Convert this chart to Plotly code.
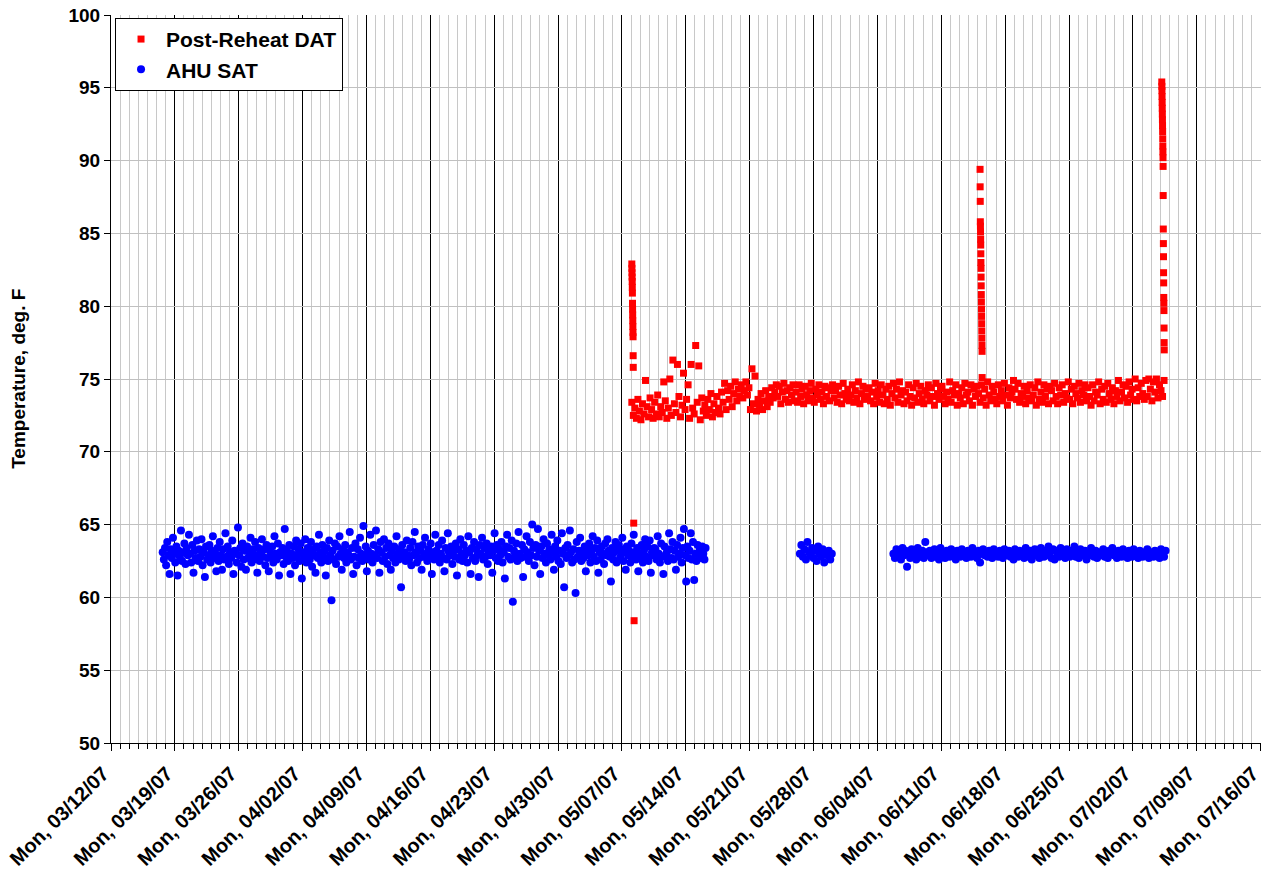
import pandas as pd
import plotly.graph_objects as go

# ---------------- data ----------------
sat_step1 = "3h"
sample_step = "4h"
spike_step = "15min"

# AHU supply air temperature (deg F), three logging segments
sat_seg1_start = "2007-03-17 16:00"
sat_seg1 = [
    63.1, 62.6, 63.4, 62.2, 63.8, 62.9, 61.6, 63.3,
    62.7, 64.1, 63.0, 62.4, 63.5, 61.5, 63.2, 62.8,
    64.6, 62.5, 63.1, 63.7, 62.3, 63.4, 62.9, 64.3,
    63.0, 62.4, 63.6, 61.7, 63.2, 62.7, 63.9, 62.5,
    63.3, 62.8, 64.0, 62.2, 63.1, 61.4, 63.5, 62.6,
    62.9, 63.6, 62.4, 63.2, 64.2, 62.7, 63.0, 61.8,
    63.4, 62.5, 63.8, 62.9, 61.9, 63.3, 62.6, 64.4,
    62.8, 63.5, 62.3, 63.1, 62.7, 63.9, 61.6, 63.2,
    63.0, 62.4, 64.8, 62.9, 63.4, 62.1, 63.7, 62.6,
    63.2, 61.9, 63.5, 62.7, 63.0, 64.1, 62.4, 63.3,
    62.6, 63.8, 62.9, 61.7, 63.4, 62.5, 63.1, 64.0,
    62.8, 63.3, 62.2, 63.6, 62.7, 61.8, 63.2, 62.9,
    63.5, 62.4, 64.2, 63.0, 62.6, 63.7, 61.5, 63.1,
    62.9, 63.4, 62.3, 64.7, 62.8, 63.2, 62.5, 63.6,
    61.6, 63.0, 62.7, 63.5, 62.2, 63.9, 62.9, 63.3,
    62.5, 63.7, 61.3, 63.1, 62.8, 64.0, 62.4, 63.4,
    63.0, 62.6, 63.8, 62.1, 63.3, 62.9, 61.7, 63.5,
    62.7, 64.3, 63.1, 62.4, 63.6, 62.8, 63.2, 61.5,
    63.4, 62.5, 63.9, 62.9, 59.8, 63.2, 62.6, 63.7,
    62.3, 63.5, 62.8, 64.2, 63.0, 61.9, 63.3, 62.7,
    63.6, 62.4, 63.1, 62.9, 64.5, 62.6, 63.4, 61.6,
    62.8, 63.7, 62.2, 63.3, 62.7, 64.1, 63.0, 62.5,
    64.9, 62.9, 63.5, 61.8, 63.2, 62.6, 64.3, 63.0,
    62.4, 63.6, 62.9, 64.6, 62.7, 63.3, 61.7, 63.8,
    63.1, 62.5, 64.0, 62.8, 63.4, 62.3, 63.7, 62.9,
    61.9, 63.2, 62.7, 63.5, 62.4, 64.2, 63.0, 62.6,
    63.3, 60.7, 63.6, 62.8, 63.1, 62.5, 63.9, 62.9,
    62.6, 63.4, 62.2, 63.8, 62.9, 64.5, 63.1, 62.4,
    63.5, 62.7, 63.2, 61.9, 63.6, 62.8, 64.1, 63.0,
    62.5, 63.3, 62.9, 63.7, 61.6, 63.1, 62.6, 64.3,
    63.2, 62.8, 63.6, 62.4, 63.0, 63.9, 62.7, 61.8,
    63.4, 62.6, 64.4, 63.1, 62.9, 63.5, 62.3, 63.2,
    62.8, 63.7, 61.5, 63.3, 62.6, 64.0, 63.0, 62.5,
    63.6, 62.9, 63.2, 62.4, 64.2, 63.1, 61.6, 63.4,
    62.7, 63.8, 62.5, 63.3, 62.9, 61.4, 63.6, 63.0,
    64.1, 62.6, 63.4, 62.8, 63.7, 62.3, 63.1, 62.9,
    63.5, 61.7, 63.2, 64.4, 62.7, 63.6, 62.5, 63.3,
    62.9, 63.8, 62.4, 63.1, 61.3, 63.5, 64.3, 62.8,
    63.4, 62.6, 63.9, 59.7, 63.2, 62.9, 63.7, 62.5,
    64.5, 63.0, 62.7, 63.6, 61.4, 63.3, 62.8, 64.2,
    63.1, 62.5, 63.8, 62.9, 65.0, 63.4, 62.2, 63.6,
    62.8, 64.7, 63.2, 61.6, 63.5, 62.7, 64.0, 63.0,
    62.4, 63.7, 62.9, 63.3, 62.6, 64.3, 63.1, 61.9,
    63.5, 62.8, 63.9, 62.5, 63.2, 62.3, 64.4, 63.0,
    60.7, 63.4, 62.7, 63.6, 62.9, 64.6, 63.1, 62.4,
    63.3, 62.6, 60.3, 63.8, 62.8, 63.2, 64.1, 62.5,
    63.0, 62.7, 63.5, 61.8, 63.3, 62.9, 63.7, 62.4,
    63.2, 64.2, 62.8, 63.4, 62.5, 63.9, 61.7, 63.1,
    62.6, 63.5, 63.0, 62.3, 63.7, 62.9, 64.0, 63.2,
    62.8, 61.1, 63.4, 62.6, 63.1, 63.8, 62.4, 63.3,
    63.6, 62.7, 63.0, 64.1, 62.5, 63.3, 61.9, 63.5,
    62.9, 63.2, 62.4, 63.7, 62.8, 64.3, 63.1, 62.6,
    63.4, 61.8, 63.0, 62.7, 63.6, 62.4, 63.2, 64.0,
    62.8, 63.5, 62.5, 63.9, 61.7, 63.1, 62.9, 63.4,
    63.3, 62.6, 64.2, 63.0, 62.4, 63.7, 62.8, 61.6,
    63.5, 62.9, 63.1, 62.5, 64.4, 63.3, 62.7, 63.8,
    62.6, 63.2, 61.9, 63.6, 62.8, 63.0, 64.1, 62.4,
    63.4, 64.7, 62.9, 61.1, 63.5, 62.7, 63.2, 64.4,
    62.6, 63.8, 61.2, 63.0, 62.5, 63.6, 62.9, 63.3,
    62.7, 63.5, 63.0, 62.6, 63.4,
]
sat_seg2_start = "2007-05-26 12:00"
sat_seg2 = [
    63.0, 63.6, 62.8, 63.3, 62.6, 63.8, 63.1, 62.9, 63.4, 62.7, 63.2,
    62.5, 63.5, 63.0, 62.8, 63.3, 62.4, 63.1, 62.9, 63.2, 62.6, 63.0,
]
sat_seg3_start = "2007-06-05 18:00"
sat_seg3 = [
    63.0, 62.7, 63.3, 62.8, 63.1, 62.6, 63.4, 62.9, 63.2, 62.1, 63.0, 62.7,
    63.3, 62.8, 63.1, 62.6, 63.4, 63.0, 62.8, 63.2, 62.7, 63.8, 63.1, 62.9,
    63.2, 62.7, 63.0, 63.3, 62.8, 63.1, 62.6, 63.4, 62.9, 63.1, 62.7, 63.2,
    63.0, 62.8, 63.3, 62.9, 63.1, 62.6, 63.2, 63.0, 62.8, 63.3, 62.9, 63.1,
    62.7, 63.2, 63.0, 62.8, 63.4, 62.9, 63.1, 62.7, 63.2, 62.4, 63.0, 63.3,
    62.9, 63.1, 62.8, 63.2, 63.0, 62.7, 63.3, 62.9, 63.1, 62.8, 63.2, 63.0,
    62.7, 63.3, 63.0, 62.9, 63.2, 62.8, 63.1, 62.6, 63.3, 63.0, 62.8, 63.2,
    62.9, 63.1, 62.7, 63.4, 63.0, 62.8, 63.2, 62.6, 63.1, 63.3, 62.9, 63.0,
    62.7, 63.4, 63.0, 62.8, 63.2, 62.9, 63.5, 63.1, 62.7, 63.3, 62.6, 63.2,
    63.0, 62.8, 63.4, 62.9, 63.1, 62.7, 63.3, 63.0, 62.8, 63.2, 62.9, 63.5,
    62.8, 63.1, 62.7, 63.3, 63.0, 62.9, 63.2, 62.6, 63.1, 62.9, 63.4, 63.0,
    62.8, 63.2, 62.7, 63.1, 63.0, 62.9, 63.3, 62.8, 63.1, 62.7, 63.2, 63.0,
    63.4, 62.9, 63.1, 62.7, 63.2, 63.0, 62.8, 63.3, 62.9, 63.1, 62.7, 63.2,
    63.0, 62.8, 63.3, 62.9, 63.1, 62.7, 63.2, 63.0, 62.8, 63.1, 62.9, 63.3,
    62.7, 63.1, 63.0, 62.8, 63.2, 62.9, 63.1, 62.7, 63.3, 63.0, 62.8, 63.2,
]

# Post-reheat discharge air temperature (deg F)
dat_band_start = "2007-05-08 02:00"
dat_band = [
    73.4, 72.5, 73.0, 72.3, 73.6, 72.8, 72.2, 73.3, 72.6, 74.9, 73.1, 72.4,
    73.7, 72.9, 72.3, 73.4, 72.6, 73.9, 72.4, 73.1, 72.7, 74.8, 73.5, 72.3,
    73.0, 75.0, 72.5, 76.3, 73.3, 72.7, 76.0, 73.8, 72.4, 73.2, 75.4, 72.9,
    73.6, 74.6, 72.3, 76.0, 73.0, 72.6, 77.3, 73.4, 75.9, 72.2, 73.7, 72.8,
    73.2, 72.5, 73.6, 72.9, 74.0, 72.4, 73.3, 72.7, 73.8, 73.0, 72.6, 74.1,
    73.4, 74.7, 72.9, 74.2, 73.6, 74.5, 73.1, 74.0, 74.8, 73.5, 74.3, 73.8,
    74.6, 73.7, 74.2, 74.8, 73.9, 74.4, 72.9, 75.7, 73.3, 75.2, 72.8, 73.6,
    73.2, 74.0, 72.9, 73.5, 74.2, 73.1, 73.8, 73.4, 74.4, 73.7, 74.1, 74.6,
    73.8, 74.5, 73.3, 74.1, 74.7, 73.6, 74.2, 73.4, 74.4, 73.9, 74.6, 73.5,
    74.1, 73.4, 74.6, 73.8, 74.3, 73.3, 74.5, 73.9, 73.5, 74.2, 74.7, 73.7,
    73.4, 74.3, 73.9, 74.6, 73.6, 74.1, 73.3, 74.5, 73.8, 74.4, 73.5, 74.2,
    74.6, 73.7, 74.2, 73.4, 74.5, 73.9, 73.3, 74.7, 74.0, 73.6, 74.3, 73.5,
    73.9, 74.6, 73.4, 74.2, 73.7, 74.8, 73.3, 74.0, 74.5, 73.6, 74.3, 73.8,
    74.4, 73.5, 74.1, 73.3, 74.7, 73.8, 74.2, 73.4, 74.6, 73.9, 73.3, 74.3,
    73.6, 74.5, 73.2, 74.0, 74.7, 73.7, 74.3, 73.4, 74.8, 73.9, 74.2, 73.3,
    74.1, 73.5, 74.6, 73.8, 73.2, 74.4, 73.7, 74.7, 73.4, 74.0, 74.5, 73.6,
    73.3, 74.2, 73.9, 74.6, 73.5, 74.4, 73.8, 73.2, 74.7, 74.0, 73.6, 74.3,
    74.5, 73.8, 73.3, 74.1, 73.6, 74.8, 73.4, 74.2, 73.9, 74.6, 73.2, 74.0,
    73.7, 74.4, 73.3, 74.7, 73.9, 74.1, 73.5, 74.6, 73.2, 74.3, 73.8, 74.5,
    74.0, 73.4, 74.6, 73.7, 74.3, 73.2, 74.8, 73.9, 73.5, 74.5, 74.1, 73.6,
    73.3, 74.6, 73.8, 74.2, 73.5, 74.7, 73.9, 73.2, 74.4, 73.7, 74.1, 74.9,
    74.3, 73.6, 74.7, 73.4, 74.0, 73.8, 74.5, 73.3, 74.2, 73.7, 74.6, 73.5,
    73.9, 74.4, 73.2, 74.8, 73.6, 74.1, 73.4, 74.6, 73.8, 74.3, 73.3, 74.5,
    74.2, 73.5, 74.7, 73.8, 73.3, 74.4, 73.9, 74.6, 73.4, 74.0, 73.7, 74.8,
    73.6, 74.3, 73.3, 74.5, 74.0, 73.7, 74.7, 73.4, 74.2, 73.9, 74.6, 73.5,
    74.4, 73.8, 73.2, 74.6, 73.5, 74.1, 73.9, 74.8, 73.3, 74.3, 73.6, 74.5,
    73.4, 74.7, 74.0, 73.6, 74.4, 73.3, 74.2, 73.8, 74.9, 73.5, 74.1, 74.6,
    73.7, 74.5, 73.4, 74.8, 73.9, 74.3, 73.6, 75.0, 73.5, 74.4, 73.8, 74.7,
    74.0, 73.6, 74.9, 73.8, 75.0, 74.3, 73.5, 74.8, 74.1, 75.0, 73.7, 74.6,
    74.2, 73.8, 74.9,
]
dat_spike1_start = "2007-05-08 02:00"
dat_spike1 = [82.9, 82.6, 82.3, 82.0, 81.7, 81.3, 80.9, 80.2, 79.8, 79.4,
              79.0, 78.6, 78.2, 77.9, 76.6, 75.8]
dat_outlier_times = ["2007-05-08 07:00", "2007-05-08 08:00"]
dat_outliers = [65.1, 58.4]
dat_spike2_start = "2007-06-15 06:00"
dat_spike2 = [89.4, 88.2, 87.2, 85.8, 85.5, 85.1, 84.6, 84.2, 83.6, 83.0,
              82.6, 82.0, 81.4, 80.8, 80.3, 79.8, 79.3, 78.8, 78.3, 77.8,
              77.3, 76.9, 75.1]
dat_spike3_start = "2007-07-05 04:00"
dat_spike3 = [95.4, 95.1, 94.8, 94.4, 94.0, 93.6, 93.2, 92.8, 92.4, 92.0,
              91.5, 91.0, 90.6, 90.2, 89.6, 87.6, 85.3, 84.3, 83.4, 82.3,
              81.6, 80.6, 80.2, 79.7, 78.5, 77.5, 77.0]

week_tick0 = "2007-03-12"
x_range = ["2007-03-12", "2007-07-16 01:00"]
y_ticks = [50, 55, 60, 65, 70, 75, 80, 85, 90, 95, 100]


def series(start, values, step):
    return list(pd.date_range(start=start, periods=len(values), freq=step))


sat_x = (series(sat_seg1_start, sat_seg1, sat_step1)
         + series(sat_seg2_start, sat_seg2, sample_step)
         + series(sat_seg3_start, sat_seg3, sample_step))
sat_y = sat_seg1 + sat_seg2 + sat_seg3

dat_x = (series(dat_band_start, dat_band, sample_step)
         + series(dat_spike1_start, dat_spike1, spike_step)
         + list(pd.to_datetime(dat_outlier_times))
         + series(dat_spike2_start, dat_spike2, spike_step)
         + series(dat_spike3_start, dat_spike3, spike_step))
dat_y = dat_band + dat_spike1 + dat_outliers + dat_spike2 + dat_spike3

FONT = "Liberation Sans, Arial, sans-serif"

fig = go.Figure()
fig.add_trace(go.Scatter(
    x=dat_x, y=dat_y, mode="markers", name="Post-Reheat DAT",
    marker=dict(symbol="square", size=7, color="#ff0000", line=dict(width=0)),
))
fig.add_trace(go.Scatter(
    x=sat_x, y=sat_y, mode="markers", name="AHU SAT",
    marker=dict(symbol="circle", size=8, color="#0000ff", line=dict(width=0)),
))

fig.update_layout(
    width=1267, height=877,
    margin=dict(l=111, r=6, t=15, b=134, autoexpand=False),
    paper_bgcolor="white", plot_bgcolor="white",
    font=dict(family=FONT, color="black"),
    showlegend=True,
    legend=dict(
        x=0.0035, y=0.996, xanchor="left", yanchor="top",
        bgcolor="white", bordercolor="black", borderwidth=1,
        font=dict(family=FONT, size=21, color="black", weight="bold"),
        tracegroupgap=0, itemwidth=40,
    ),
    xaxis=dict(
        type="date", range=x_range, automargin=False,
        tick0=week_tick0, dtick=7 * 86400000,
        tickformat="%a, %m/%d/%y", tickangle=-45,
        tickfont=dict(family=FONT, size=20, color="black", weight="bold"),
        ticklabeloverflow="allow", ticklabelshift=-8, ticklabelstandoff=3,
        ticks="outside", ticklen=7, tickcolor="black", tickwidth=1,
        showgrid=True, gridcolor="black", gridwidth=1,
        showline=True, linecolor="black", linewidth=1,
        zeroline=False,
        minor=dict(tick0=week_tick0, dtick=86400000, ticks="outside",
                   ticklen=5, tickcolor="black", tickwidth=1,
                   showgrid=True, gridcolor="#c8c8c8", gridwidth=1),
    ),
    yaxis=dict(
        range=[50, 100], tickvals=y_ticks, automargin=False,
        tickfont=dict(family=FONT, size=19, color="black", weight="bold"),
        ticks="outside", ticklen=6, tickcolor="black", tickwidth=1,
        showgrid=True, gridcolor="#c0c0c0", gridwidth=1,
        showline=True, linecolor="black", linewidth=1,
        zeroline=False,
    ),
    annotations=[dict(
        text="Temperature, deg. F", xref="paper", yref="paper",
        x=-0.081, y=0.5, xanchor="center", yanchor="middle",
        textangle=-90, showarrow=False,
        font=dict(family=FONT, size=19, color="black", weight="bold"),
    )],
)

fig.write_html("out.html", config={"displayModeBar": False},
               post_script="document.body.style.margin='0';document.body.style.overflow='hidden';")
